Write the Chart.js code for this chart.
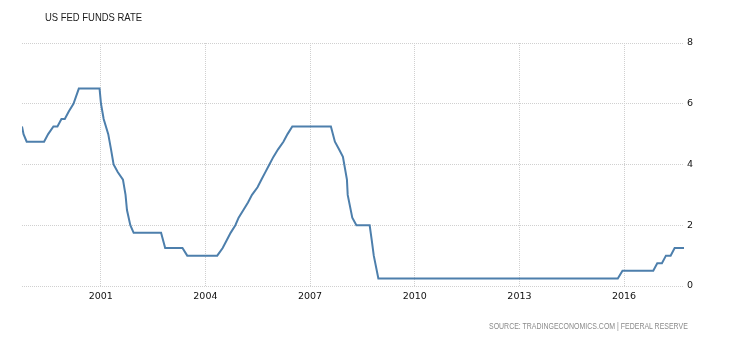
<!DOCTYPE html>
<html>
<head>
<meta charset="utf-8">
<script src="https://cdn.jsdelivr.net/npm/chart.js@4.4.0/dist/chart.umd.min.js"></script>
<style>
body { margin: 0; background: #fff; }
#wrap { position: relative; width: 730px; height: 340px; }
#title { position: absolute; left: 45px; top: 11px; font: 11px "Liberation Sans", sans-serif; color: #1a1a1a; white-space: nowrap; transform: scaleX(0.86); transform-origin: left top; }
#source { position: absolute; left: 489px; top: 321px; font: 8.5px "Liberation Sans", sans-serif; color: #8a8a8a; white-space: nowrap; transform: scaleX(0.82); transform-origin: left top; }
</style>
</head>
<body>
<div id="wrap">
  <canvas id="rateChart" width="730" height="340"></canvas>
  <div id="title">US FED FUNDS RATE</div>
  <div id="source">SOURCE: TRADINGECONOMICS.COM | FEDERAL RESERVE</div>
</div>
<script>
// FOMC decision dates and target rate (upper bound), in percent
var dates = [
    "1998-09-29", "1998-10-15", "1998-11-17", "1999-05-18", "1999-06-30",
    "1999-08-24", "1999-10-05", "1999-11-16", "1999-12-21", "2000-02-02",
    "2000-03-21", "2000-05-16", "2000-12-19", "2001-01-03", "2001-01-31",
    "2001-03-20", "2001-04-18", "2001-05-15", "2001-06-27", "2001-08-21",
    "2001-09-17", "2001-10-02", "2001-11-06", "2001-12-11", "2002-09-24",
    "2002-11-06", "2003-05-06", "2003-06-25", "2004-05-04", "2004-06-30",
    "2004-08-10", "2004-09-21", "2004-11-10", "2004-12-14", "2005-02-02",
    "2005-03-22", "2005-05-03", "2005-06-30", "2005-08-09", "2005-09-20",
    "2005-11-01", "2005-12-13", "2006-01-31", "2006-03-28", "2006-05-10",
    "2006-06-29", "2007-08-07", "2007-09-18", "2007-10-31", "2007-12-11",
    "2008-01-22", "2008-01-30", "2008-03-18", "2008-04-30", "2008-09-16",
    "2008-10-08", "2008-10-29", "2008-12-16", "2015-10-28", "2015-12-16",
    "2016-11-02", "2016-12-14", "2017-02-01", "2017-03-15", "2017-05-03",
    "2017-06-14", "2017-09-20"
];
var rates = [
    5.25, 5.00, 4.75, 4.75, 5.00,
    5.25, 5.25, 5.50, 5.50, 5.75,
    6.00, 6.50, 6.50, 6.00, 5.50,
    5.00, 4.50, 4.00, 3.75, 3.50,
    3.00, 2.50, 2.00, 1.75, 1.75,
    1.25, 1.25, 1.00, 1.00, 1.25,
    1.50, 1.75, 2.00, 2.25, 2.50,
    2.75, 3.00, 3.25, 3.50, 3.75,
    4.00, 4.25, 4.50, 4.75, 5.00,
    5.25, 5.25, 4.75, 4.50, 4.25,
    3.50, 3.00, 2.25, 2.00, 2.00,
    1.50, 1.00, 0.25, 0.25, 0.50,
    0.50, 0.75, 0.75, 1.00, 1.00,
    1.25, 1.25
];
var tickYears = [2001, 2004, 2007, 2010, 2013, 2016];
var yTicks = [0, 2, 4, 6, 8];

var points = [];
for (var i in dates) {
    points.push({ x: Date.parse(dates[i]), y: rates[i] });
}

var gridStyle = {
    color: "#d0d0d0",
    lineWidth: 1,
    drawTicks: false
};
var tickFont = { family: "'DejaVu Sans', sans-serif", size: 9.5 };

var ctx = document.getElementById("rateChart").getContext("2d");
var chart = new Chart(ctx, {
    type: "line",
    data: {
        datasets: [
            {
                label: "US Fed Funds Rate",
                data: points,
                borderColor: "#4d7fac",
                borderWidth: 2,
                pointRadius: 0,
                tension: 0,
                fill: false,
            },
        ],
    },
    options: {
        responsive: false,
        animation: false,
        layout: {
            padding: { left: 22, right: 16, top: 43, bottom: 30 },
        },
        plugins: {
            legend: { display: false },
            tooltip: { enabled: false },
        },
        scales: {
            x: {
                type: "linear",
                min: Date.parse(dates[0]),
                max: Date.parse(dates[dates.length - 1]),
                border: { display: false, dash: [1, 1] },
                grid: gridStyle,
                afterBuildTicks: function (scale) {
                    scale.ticks = tickYears.map(function (y) {
                        return { value: Date.UTC(y, 0, 1) };
                    });
                },
                afterFit: function (scale) {
                    scale.height = 24;
                },
                ticks: {
                    autoSkip: false,
                    maxRotation: 0,
                    padding: 5,
                    color: "#111",
                    font: tickFont,
                    callback: function (value) {
                        return new Date(value).getUTCFullYear();
                    },
                },
            },
            y: {
                position: "right",
                min: 0,
                max: 8,
                border: { display: false, dash: [1, 1] },
                grid: gridStyle,
                afterBuildTicks: function (scale) {
                    scale.ticks = yTicks.map(function (v) {
                        return { value: v };
                    });
                },
                afterFit: function (scale) {
                    scale.width = 30;
                },
                ticks: {
                    padding: 3,
                    color: "#111",
                    font: tickFont,
                },
            },
        },
    },
});
</script>
</body>
</html>
